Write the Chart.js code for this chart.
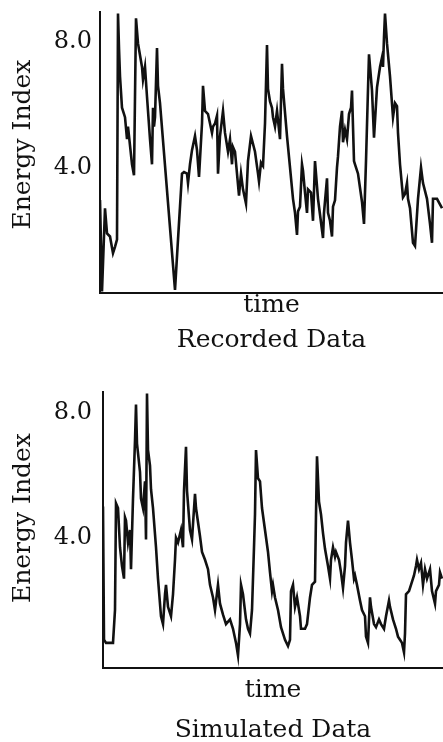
<!DOCTYPE html>
<html>
<head>
<meta charset="utf-8">
<script src="https://cdn.jsdelivr.net/npm/chart.js@4"></script>
<style>
  html, body { margin: 0; padding: 0; background: #fff; overflow: hidden; }
  canvas { position: absolute; left: 0; }
</style>
</head>
<body>
<canvas id="recorded" width="443" height="365" style="top:0"></canvas>
<canvas id="simulated" width="443" height="390" style="top:365px"></canvas>
<script>
// recorded data (top panel)
const recTime = [0, 2, 5, 7, 10, 13, 15, 17, 18, 19, 20, 22, 25, 27, 28, 32, 34, 36, 38, 42, 43, 45, 47, 50, 52, 53, 54, 55, 57, 58, 60,
  75, 78, 82, 84, 87, 88, 90, 92, 95, 97, 99, 102, 103, 105, 108, 112, 113, 115, 117, 118, 120, 123, 125, 128, 130, 132, 133, 135, 137, 139,
  141, 143, 146, 148, 151, 155, 158, 159, 161, 163, 165, 167, 168, 170, 172, 173, 175, 177, 180, 182, 183, 187, 190, 193, 195, 197, 198, 200,
  202, 203, 205, 207, 208, 211, 213, 215, 218, 220, 223, 224, 227, 228, 230, 232, 233, 235, 237, 238, 240, 242, 243, 245, 247, 249, 251, 252,
  253, 254, 255, 258, 262, 264, 266, 268, 269, 272, 274, 277, 280, 282, 283, 284, 285, 287, 290, 293, 295, 297, 298, 300, 303, 305, 307, 308,
  310, 313, 315, 318, 321, 323, 327, 330, 332, 333, 337, 342];
const recEnergy = [2.96, 0.05, 2.7, 1.9, 1.8, 1.27, 1.47, 1.7, 8.9, 7.8, 6.9, 5.9, 5.6, 4.9, 5.3, 4.1, 3.75, 8.75, 7.95, 7.2, 6.8, 7.2, 6.25, 4.9, 4.1, 5.9, 5.3, 5.6, 7.8, 6.6, 6.05,
  0.1, 1.7, 3.8, 3.85, 3.8, 3.5, 4.1, 4.55, 5.0, 4.55, 3.7, 5.4, 6.6, 5.8, 5.7, 5.1, 5.3, 5.4, 5.65, 3.8, 5.0, 5.8, 5.1, 4.5, 4.9, 4.1, 4.65, 4.5, 3.8, 3.1,
  3.8, 3.3, 2.85, 4.2, 5.0, 4.5, 3.8, 3.55, 4.15, 4.05, 5.4, 7.9, 6.5, 6.1, 5.9, 5.6, 5.3, 5.8, 4.9, 7.3, 6.5, 5.0, 4.0, 3.0, 2.55, 1.85, 2.6, 2.75,
  4.1, 3.9, 3.2, 2.55, 3.3, 3.2, 2.3, 4.2, 3.0, 2.5, 1.75, 2.55, 3.65, 2.55, 2.3, 1.8, 2.75, 2.95, 4.0, 4.35, 5.3, 5.8, 4.8, 5.2, 4.9, 5.7, 5.9, 6.45,
  5.3, 4.2, 4.1, 3.8, 2.9, 2.2, 4.2, 6.5, 7.6, 6.45, 4.95, 6.55, 7.2, 7.5, 7.2, 8.15, 8.9, 7.95, 6.9, 5.6, 6.05, 5.95, 5.1, 4.1, 3.05, 3.15, 3.5, 3.0,
  2.7, 1.6, 1.5, 3.0, 4.0, 3.5, 3.0, 2.2, 1.6, 3.0, 3.0, 2.7];

// simulated data (bottom panel)
const simTime = [0, 1, 3, 10, 12, 13, 15, 17, 19, 21, 22, 23, 25, 27, 28, 30, 32, 33, 34, 37, 38, 40, 42, 43, 44, 45, 47, 48, 50, 53, 55, 58, 60,
  62, 63, 65, 68, 70, 72, 73, 75, 78, 80, 81, 83, 84, 87, 89, 92, 93, 97, 99, 102, 105, 107, 110, 112, 115, 117, 120, 123, 127, 130, 133, 135,
  137, 138, 140, 143, 145, 147, 149, 151, 152, 153, 155, 157, 159, 162, 165, 167, 169, 170, 172, 175, 178, 182, 185, 187, 188, 190, 192, 194,
  197, 198, 202, 204, 207, 209, 212, 213, 214, 216, 218, 220, 222, 225, 227, 228, 230, 232, 233, 236, 238, 240, 242, 243, 245, 247, 249, 251,
  252, 254, 257, 259, 262, 263, 265, 267, 268, 271, 273, 276, 278, 281, 283, 286, 287, 290, 293, 295, 297, 299, 301, 302, 303, 306, 308, 311,
  313, 314, 316, 318, 320, 322, 324, 327, 329, 332, 333, 336, 337, 339];
const simEnergy = [5.0, 0.75, 0.65, 0.65, 1.7, 5.1, 4.95, 3.7, 3.1, 2.7, 4.65, 4.55, 3.85, 4.25, 3.0, 5.25, 7.1, 8.25, 7.0, 6.1, 5.25, 4.95, 5.8, 3.95, 8.6, 6.8, 6.3, 5.55, 4.95, 3.7, 2.7, 1.5, 1.25,
  2.2, 2.5, 1.8, 1.5, 2.2, 3.3, 4.0, 3.85, 4.25, 3.7, 5.5, 6.9, 5.5, 4.25, 3.95, 5.4, 4.95, 4.05, 3.55, 3.3, 3.0, 2.5, 2.1, 1.7, 2.5, 1.9, 1.55, 1.25, 1.4, 1.1, 0.65, 0.25,
  1.25, 2.5, 2.2, 1.4, 1.1, 0.95, 1.7, 3.7, 4.75, 6.8, 5.9, 5.8, 4.95, 4.25, 3.55, 2.9, 2.3, 2.5, 2.1, 1.7, 1.15, 0.75, 0.55, 0.75, 2.3, 2.5, 1.8, 2.1,
  1.5, 1.1, 1.1, 1.25, 2.1, 2.5, 2.6, 4.75, 6.6, 5.15, 4.75, 4.15, 3.65, 3.1, 2.7, 3.3, 3.7, 3.4, 3.55, 3.3, 2.9, 2.4, 3.1, 3.85, 4.55, 3.85, 3.3, 2.7,
  2.8, 2.5, 2.0, 1.7, 1.5, 0.85, 0.65, 2.1, 1.8, 1.25, 1.15, 1.4, 1.25, 1.1, 1.5, 2.0, 1.8, 1.4, 1.1, 0.85, 0.75, 0.65, 0.35, 0.95, 2.2, 2.3, 2.5, 2.8,
  3.1, 3.3, 3.0, 3.2, 2.5, 3.0, 2.7, 3.0, 2.3, 1.9, 2.3, 2.5, 2.9, 2.7];

const yTickValues = [4, 8];

Chart.defaults.font.family = "'DejaVu Serif', serif";
Chart.defaults.color = '#111';

function energyChart(id, time, energy, o) {
  const ctx = document.getElementById(id).getContext('2d');
  return new Chart(ctx, {
    type: 'line',
    data: {
      datasets: [{
        data: time.map((t, i) => ({ x: t, y: energy[i] })),
        borderColor: '#111',
        borderWidth: 2.6,
        pointRadius: 0,
        tension: 0
      }]
    },
    options: {
      responsive: false,
      animation: false,
      layout: { padding: { top: o.top, left: 0, right: 0, bottom: 0 } },
      plugins: { legend: { display: false }, tooltip: { enabled: false } },
      scales: {
        x: {
          type: 'linear',
          min: 0,
          max: o.xMax,
          grid: { display: false, drawTicks: false },
          border: { display: true, color: '#111', width: 2 },
          ticks: { display: false },
          title: {
            display: true,
            text: ['time', o.caption],
            font: { size: 25, lineHeight: o.lineHeight },
            padding: { top: 0, bottom: o.capPad }
          },
          afterFit: s => { s.height = o.xHeight; s.paddingLeft = 0; s.paddingRight = 0; }
        },
        y: {
          min: o.yMin,
          max: o.yMax,
          grid: { display: false, drawTicks: false },
          border: { display: true, color: '#111', width: 2 },
          afterBuildTicks: s => { s.ticks = yTickValues.map(v => ({ value: v })); },
          ticks: { font: { size: 24 }, padding: o.tickPad, callback: v => v.toFixed(1) },
          title: {
            display: true,
            text: o.yTitle,
            font: { size: 25 },
            padding: { top: 8.5, bottom: 0 }
          },
          afterFit: s => { s.width = o.yWidth; s.paddingTop = 0; s.paddingBottom = 0; }
        }
      }
    }
  });
}

energyChart('recorded', recTime, recEnergy, {
  top: 12, xMax: 343, yMin: 0, yMax: 8.95, yWidth: 100, xHeight: 72,
  caption: 'Recorded Data', lineHeight: 1.4, capPad: 7.5, tickPad: 8,
  yTitle: '  Energy Index'
});

energyChart('simulated', simTime, simEnergy, {
  top: 27, xMax: 340, yMin: -0.15, yMax: 8.65, yWidth: 103, xHeight: 87,
  caption: 'Simulated Data', lineHeight: 1.6, capPad: 5, tickPad: 11,
  yTitle: '   Energy Index'
});
</script>
</body>
</html>
